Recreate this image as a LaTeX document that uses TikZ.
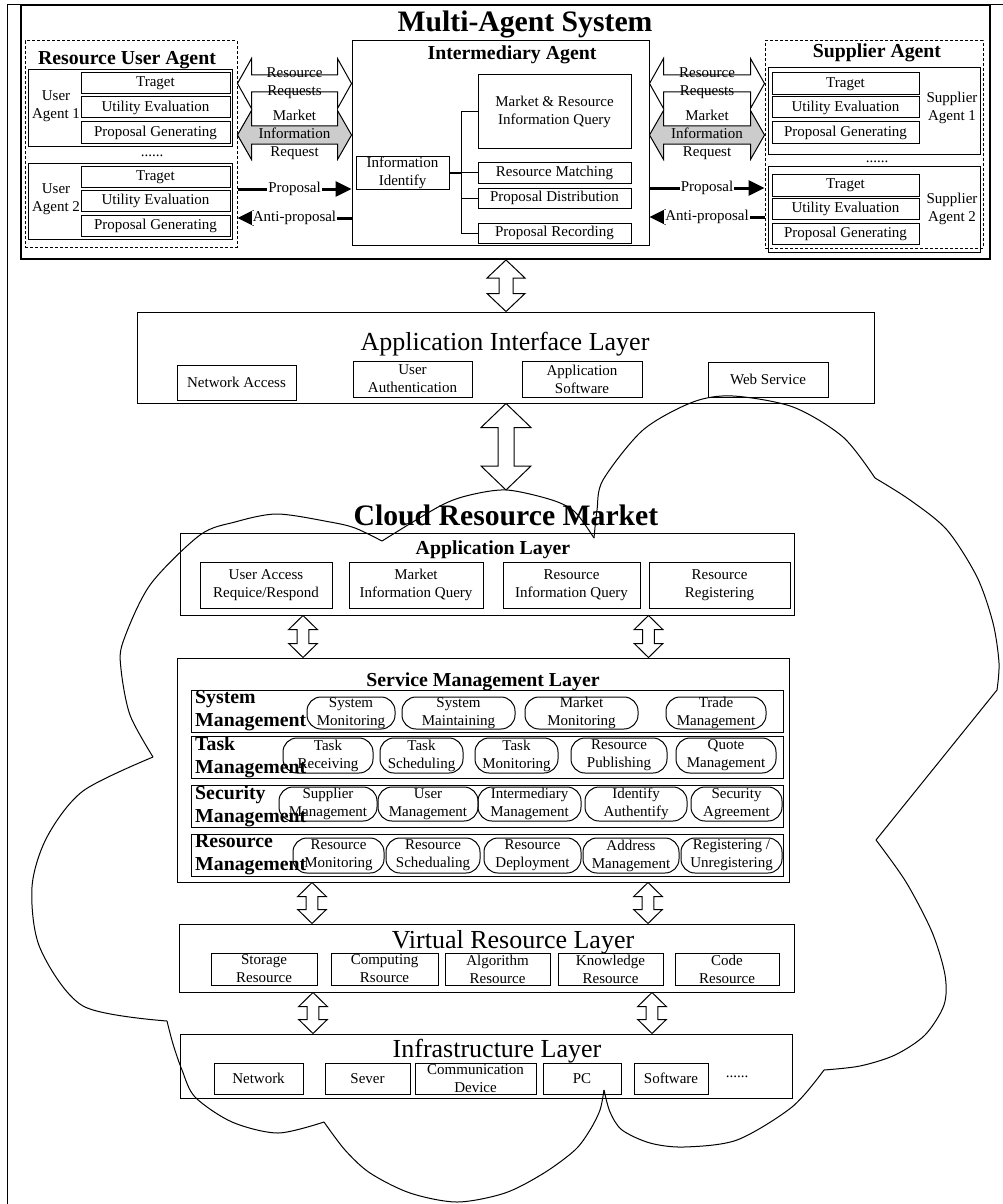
\documentclass[tikz,border=0pt]{standalone}
\usepackage{fontspec}
\setmainfont{Liberation Serif}
\usetikzlibrary{arrows.meta,calc}
\tikzset{>/.tip={Triangle[length=16pt,width=15pt]},
  wh/.style 2 args={minimum width=#1pt, minimum height=#2pt},
  txt/.style={inner sep=0pt, align=center, font=\fontsize{15}{18}\selectfont},
  box/.style={txt, draw, line width=1pt},
  pill/.style={box, rounded corners=14pt},
  agentbox/.style={draw, line width=1pt, dash pattern=on 3pt off 2pt, inner sep=0pt},
  head/.style={inner sep=0pt, anchor=base, font=\bfseries\fontsize{19.8}{23}\selectfont},
  bighead/.style={inner sep=0pt, anchor=base, font=\bfseries\fontsize{29.7}{34}\selectfont},
  layerhead/.style={inner sep=0pt, anchor=base, font=\fontsize{26}{30}\selectfont},
  biarrow/.style={draw, line width=1pt, line join=miter},
  prop/.style={line width=3pt, ->}}

% hollow double arrows: top/bottom (or left/right) point, half head, half shaft, head length
\newcommand{\vbiarrow}[5]{%
  \draw[biarrow] let \p1=(#1), \p2=(#2) in
    (\x1,\y1) -- (\x1+#3pt,\y1-#5pt) -- (\x1+#4pt,\y1-#5pt) -- (\x1+#4pt,\y2+#5pt)
    -- (\x1+#3pt,\y2+#5pt) -- (\x1,\y2) -- (\x1-#3pt,\y2+#5pt) -- (\x1-#4pt,\y2+#5pt)
    -- (\x1-#4pt,\y1-#5pt) -- (\x1-#3pt,\y1-#5pt) -- cycle;}
\newcommand{\hbiarrow}[6][]{%
  \draw[biarrow,#1] let \p1=(#2), \p2=(#3) in
    (\x1,\y1) -- (\x1+#6pt,\y1+#4pt) -- (\x1+#6pt,\y1+#5pt) -- (\x2-#6pt,\y1+#5pt)
    -- (\x2-#6pt,\y1+#4pt) -- (\x2,\y1) -- (\x2-#6pt,\y1-#4pt) -- (\x2-#6pt,\y1-#5pt)
    -- (\x1+#6pt,\y1-#5pt) -- (\x1+#6pt,\y1-#4pt) -- cycle;}

\begin{document}
\begin{tikzpicture}[x=1pt, y=-1pt]
\useasboundingbox (0,0) rectangle (1003,1204);
\draw[line width=1pt] (7,1204) |- (1003,5);

% multi-agent system
\node[draw, line width=2pt, inner sep=0pt, wh={969}{254}] (mas) at (505.5,132) {};
\node[bighead] (mastitle) at (525,31.5) {Multi-Agent System};

% resource user agent
\node[agentbox, wh={212}{206}] (rua) at (131,144) {};
\node[head] (ruatitle) at (127,65) {Resource User Agent};
\foreach \i/\y in {1/0,2/93.5}
{
  \node[box, wh={204}{76}] (ua\i) at (130,108+\y) {};
  \node[box, wh={149}{21}] (ut\i) at (155.5,83.5+\y) {Traget};
  \node[box, wh={149}{21}] (uu\i) at (155.5,107.5+\y) {Utility Evaluation};
  \node[box, wh={149}{21}] (up\i) at (155.5,132.5+\y) {Proposal Generating};
  \node[txt] (ul\i) at (56,106+\y) {User\\Agent \i};
}
\node[txt] (uadots) at (152,156) {......};

% supplier agent
\node[agentbox, wh={218}{207}] (sa) at (874,144.5) {};
\node[head] (satitle) at (877,58) {Supplier Agent};
\foreach \i/\y/\z in {1/0/0,2/98.5/101.5}
{
  \node[box, wh={212}{86}] (sa\i) at (874,111+\y) {};
  \node[box, wh={147}{22}] (st\i) at (845.5,84+\z) {Traget};
  \node[box, wh={147}{21}] (su\i) at (845.5,107.5+\z) {Utility Evaluation};
  \node[box, wh={147}{21}] (sp\i) at (845.5,132.5+\z) {Proposal Generating};
  \node[txt] (sl\i) at (952,107.5+\z) {Supplier\\Agent \i};
}
\node[txt] (sadots) at (877,162) {......};

% intermediary agent
\node[box, wh={297}{204}] (ia) at (500.5,143) {};
\node[head] (iatitle) at (512,60) {Intermediary Agent};
\node[box, wh={153}{73}] (mriq) at (554.5,111.5) {Market \& Resource\\Information Query};
\node[box, wh={93}{33}] (infoid) at (402.5,172.5) {Information\\Identify};
\node[box, wh={153}{21}] (rmatch) at (554.5,172.5) {Resource Matching};
\node[box, wh={153}{20}] (pdist) at (554.5,198) {Proposal Distribution};
\node[box, wh={153}{20}] (prec) at (554.5,233) {Proposal Recording};
\coordinate (bus) at (461,172.5);
\draw[line width=2pt] (infoid.east) -- (bus);
\foreach \b in {mriq,rmatch,pdist,prec}
  \draw[line width=1pt] (\b.west) -| (bus);

% messages between agents
\hbiarrow{rua.east |- 0,83.5}{ia.west |- 0,83.5}{25}{8.5}{14}
\hbiarrow[fill=gray!40]{rua.east |- 0,135}{ia.west |- 0,135}{24.5}{9}{14}
\hbiarrow{ia.east |- 0,83.5}{sa.west |- 0,83.5}{25}{8.5}{14}
\hbiarrow[fill=gray!40]{ia.east |- 0,135}{sa.west |- 0,135}{24.5}{9}{14}
\node[txt] (rrl) at (294.5,83.5) {Resource\\Requests};
\node[txt] (mirl) at (294.5,135) {Market\\Information\\Request};
\node[txt] (rrr) at (707,83.5) {Resource\\Requests};
\node[txt] (mirr) at (707,135) {Market\\Information\\Request};
\draw[prop] (rua.east |- 0,189) -- (ia.west |- 0,189)
  node[midway, txt, fill=white, inner xsep=1pt] {Proposal};
\draw[prop] (ia.west |- 0,218) -- (rua.east |- 0,218)
  node[midway, txt, fill=white, inner xsep=1pt] {Anti-proposal};
\draw[prop] (ia.east |- 0,188) -- (sa.west |- 0,188)
  node[midway, txt, fill=white, inner xsep=1pt] {Proposal};
\draw[prop] (sa.west |- 0,217) -- (ia.east |- 0,217)
  node[midway, txt, fill=white, inner xsep=1pt] {Anti-proposal};

% application interface layer
\node[box, wh={737}{91}] (ail) at (505.5,357.5) {};
\node[layerhead] (ailtitle) at (505,350) {Application Interface Layer};
\node[box, wh={119}{35}] (netacc) at (236.5,382.5) {Network Access};
\node[box, wh={119}{36}] (userauth) at (412.5,379) {User\\Authentication};
\node[box, wh={120}{36}] (appsw) at (582,379) {Application\\Software};
\node[box, wh={120}{35}] (websvc) at (768,379.5) {Web Service};
\vbiarrow{506,0 |- mas.south}{506,0 |- ail.north}{19}{7}{18}
\coordinate (crmtop) at (506,490);
\vbiarrow{506,0 |- ail.south}{crmtop}{25}{8}{24}

% cloud resource market
\node[bighead] (crmtitle) at (506,525) {Cloud Resource Market};
\node[box, wh={614}{82}] (al) at (487,574) {};
\node[head] (altitle) at (493,554) {Application Layer};
\foreach \x/\w/\a/\b [count=\i] in {266/132/User Access/{Requice/Respond},
    416/134/Market/Information Query, 571.5/137/Resource/Information Query,
    719.5/141/Resource/Registering}
  \node[box, wh={\w}{46}] (ali\i) at (\x,585) {\a\\\b};

\node[box, wh={612}{224}] (sml) at (483,770) {};
\node[head] (smltitle) at (483,686) {Service Management Layer};
\foreach \n/\y/\a in {sys/711/System, task/757/Task, sec/806/Security, res/855/Resource}
{
  \node[box, wh={592}{42}] (\n row) at (487,\y) {};
  \node[head, anchor=west, align=left] (\n lab) at (195,\y) {\a\\Management};
}
\foreach \x/\w/\a/\b [count=\i] in {351/88/System/Monitoring, 458.5/113/System/Maintaining,
    581.5/113/Market/Monitoring, 716/100/Trade/Management}
  \node[pill, wh={\w}{32}] (sysp\i) at (\x,713) {\a\\\b};
\foreach \x/\w/\a/\b [count=\i] in {328/90/Task/Receiving, 421.5/83/Task/Scheduling,
    516.5/83/Task/Monitoring, 619/96/Resource/Publishing, 726/100/Quote/Management}
  \node[pill, wh={\w}{35}] (taskp\i) at (\x,755.5) {\a\\\b};
\foreach \x/\w/\a/\b [count=\i] in {328/98/Supplier/Management, 428/100/User/Management,
    529.5/103/Intermediary/Management, 636/102/Identify/Authentify, 736.5/91/Security/Agreement}
  \node[pill, wh={\w}{34}] (secp\i) at (\x,804) {\a\\\b};
\foreach \x/\w/\a/\b [count=\i] in {338.5/91/Resource/Monitoring, 433/94/Resource/Schedualing,
    532.5/97/Resource/Deployment, 631/96/Address/Management, 731.5/101/{Registering /}/Unregistering}
  \node[pill, wh={\w}{35}] (resp\i) at (\x,855.5) {\a\\\b};

\node[box, wh={615}{68}] (vrl) at (486.5,958) {};
\node[layerhead] (vrltitle) at (513,948) {Virtual Resource Layer};
\foreach \x/\w/\a/\b [count=\i] in {264/106/Storage/Resource, 384.5/107/Computing/Rsource,
    497.5/105/Algorithm/Resource, 610.5/105/Knowledge/Resource, 727/104/Code/Resource}
  \node[box, wh={\w}{32}] (vr\i) at (\x,969) {\a\\\b};

\node[box, wh={612}{64}] (infra) at (486,1066) {};
\node[layerhead] (infratitle) at (497,1057) {Infrastructure Layer};
\foreach \x/\w/\t in {258.5/89/Network, 367.5/85/Sever, 582/78/PC, 671/74/Software}
  \node[box, wh={\w}{31}] (in\t) at (\x,1078.5) {\t};
\node[box, wh={121}{31}] (incomm) at (475.5,1078.5) {Communication\\Device};
\node[txt] (indots) at (737,1077) {......};

% arrows between layers
\foreach \ax in {303,648.5}
  {\vbiarrow{\ax,0 |- al.south}{\ax,0 |- sml.north}{14.3}{5.8}{14}}
\foreach \ax in {312,648}
  {\vbiarrow{\ax,0 |- sml.south}{\ax,0 |- vrl.north}{14.3}{5.8}{14}}
\foreach \ax in {313,652}
  {\vbiarrow{\ax,0 |- vrl.south}{\ax,0 |- infra.north}{14.3}{5.8}{14}}

% cloud outline
\begin{scope}[line width=1pt]
\draw plot[smooth] coordinates {(382,541) (355,528) (330,522) (277,514) (235,522) (200,535)
  (150,585) (123,642) (121,669) (130,715) (153,757)};
\draw plot[smooth] coordinates {(153,757) (83,791) (47,837) (32,887) (40,948) (83,1006) (167,1021)};
\draw plot[smooth] coordinates {(167,1021) (173,1044) (182,1070) (195,1097) (232,1122) (278,1133) (324,1122)};
\draw plot[smooth] coordinates {(324,1122) (345,1150) (370,1173) (410,1193) (457,1202) (505,1193)
  (544,1173) (575,1150) (590,1130) (600,1110) (604,1090)};
\draw plot[smooth] coordinates {(604,1090) (610,1112) (622,1130) (650,1143) (684,1147) (737,1140)
  (792,1107) (824,1070)};
\draw plot[smooth] coordinates {(824,1070) (860,1066) (895,1055) (925,1035) (944,1005) (945,975)
  (932,932) (906,882) (876,840)};
\draw (876,840) -- (997,690);
\draw plot[smooth] coordinates {(997,690) (999,663) (993,623) (977,577) (947,530) (910,500) (875,478)};
\draw plot[smooth] coordinates {(875,478) (843,437) (793,407) (733,396) (693,402) (643,430)
  (603,480) (597,510) (594,538)};
\draw plot[smooth] coordinates {(594,538) (575,512) (552,500) (507,490) (470,495) (440,506) (382,541)};
\end{scope}
\end{tikzpicture}
\end{document}
